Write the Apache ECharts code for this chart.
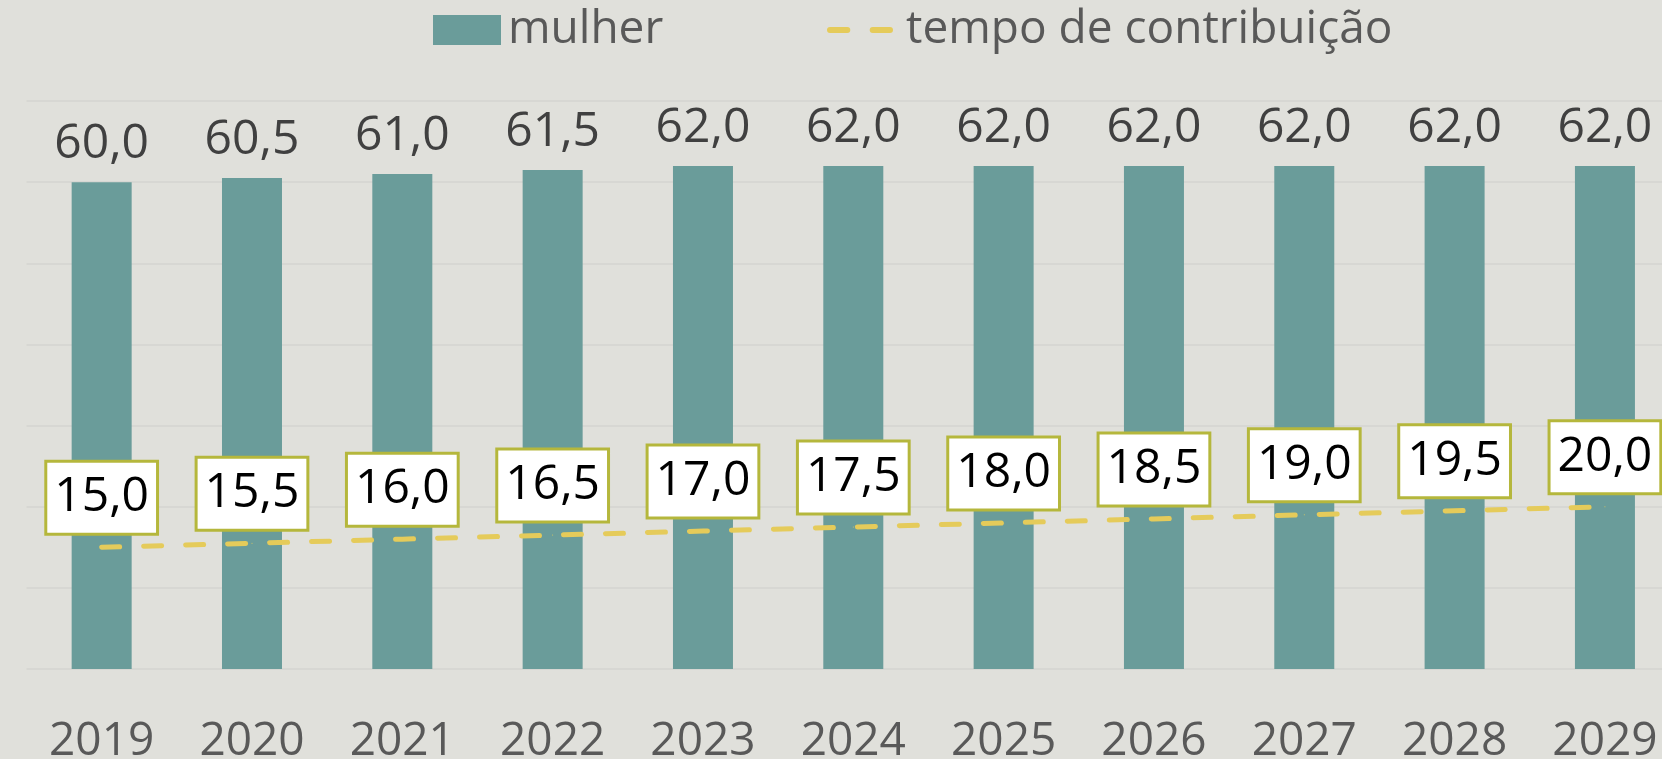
<!DOCTYPE html>
<html><head><meta charset="utf-8">
<script src="https://cdn.jsdelivr.net/npm/echarts@6/dist/echarts.min.js"></script>
<style>html,body{margin:0;padding:0;background:#E0E0DB;}#c{width:1662px;height:759px;}</style>
</head><body><div id="c"></div>
<script>
const categories = ['2019','2020','2021','2022','2023','2024','2025','2026','2027','2028','2029'];
const mulher = [60.0, 60.5, 61.0, 61.5, 62.0, 62.0, 62.0, 62.0, 62.0, 62.0, 62.0];
const tempo = [15.0, 15.5, 16.0, 16.5, 17.0, 17.5, 18.0, 18.5, 19.0, 19.5, 20.0];
const seriesNames = ['mulher', 'tempo de contribuição'];

const fmt = p => p.value.toFixed(1).replace('.', ',');
const mainFont = '"Open Sans", "Noto Sans", sans-serif';

const chart = echarts.init(document.getElementById('c'), null, {renderer: 'canvas'});
chart.setOption({
  backgroundColor: '#E0E0DB',
  animation: false,
  legend: [
    {left: 433, top: 7, padding: 0, itemWidth: 68, itemHeight: 30,
     data: [{name: seriesNames[0], icon: 'rect'}],
     textStyle: {color: '#595959', fontSize: 46, fontFamily: mainFont, padding: [0, 0, 0, 2]}},
    {left: 827, top: 7, padding: 0, itemWidth: 66, itemHeight: 6,
     data: [{name: seriesNames[1],
             icon: 'path://M3,0H20.3A3,3 0 0 1 20.3,6H3A3,3 0 0 1 3,0Z M45.7,0H63A3,3 0 0 1 63,6H45.7A3,3 0 0 1 45.7,0Z'}],
     textStyle: {color: '#595959', fontSize: 46, fontFamily: mainFont, padding: [0, 0, 0, 8]}}
  ],
  grid: {left: 26.5, top: 101, width: 1653.6, height: 568, containLabel: false, outerBoundsMode: 'none'},
  xAxis: {
    type: 'category', data: categories,
    axisLine: {show: false}, axisTick: {show: false},
    axisLabel: {color: '#595959', fontSize: 46, fontFamily: mainFont, margin: 50}
  },
  yAxis: {
    type: 'value', min: 0, max: 70, interval: 10,
    axisLabel: {show: false}, axisLine: {show: false}, axisTick: {show: false},
    splitLine: {lineStyle: {color: '#D5D5D0', width: 1.5}}
  },
  series: [
    {
      name: seriesNames[0], type: 'bar', data: mulher, barWidth: 60,
      itemStyle: {color: '#6A9C9A'},
      label: {show: true, position: 'top', distance: 14, formatter: fmt,
              color: '#404040', fontSize: 48, fontFamily: mainFont}
    },
    {
      name: seriesNames[1], type: 'line', data: tempo,
      symbol: 'circle', symbolSize: 1, showSymbol: true,
      itemStyle: {color: '#E5CB5A'},
      lineStyle: {color: '#E5CB5A', width: 5, type: [18, 24], cap: 'round'},
      label: {show: true, position: 'top', distance: 14, formatter: fmt,
              color: '#000000', fontSize: 48, fontFamily: mainFont, lineHeight: 50,
              backgroundColor: '#FFFFFF', borderColor: '#B5B73C', borderWidth: 3,
              padding: [10, 7, 10, 7]}
    }
  ]
});
</script></body></html>
